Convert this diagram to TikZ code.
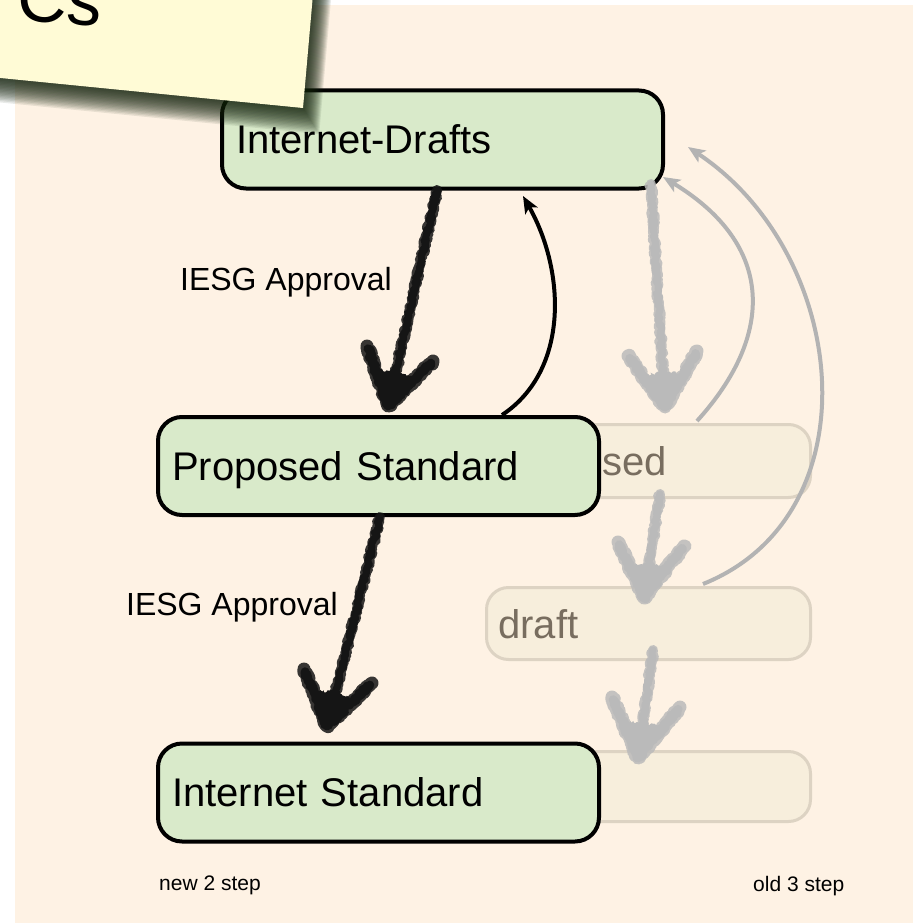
\documentclass[tikz,border=0pt]{standalone}
\usepackage{fontspec}
\setmainfont{Liberation Sans}
\usetikzlibrary{arrows.meta,decorations.pathmorphing,calc}
\definecolor{bgpeach}{HTML}{FEF2E4}
\definecolor{boxgreen}{HTML}{D9EACA}
\definecolor{fadefill}{HTML}{F7EEDC}
\definecolor{fadeline}{HTML}{DDD3C3}
\definecolor{fadetext}{HTML}{786D5F}
\definecolor{arrowgray}{HTML}{B3B3B3}
\definecolor{chalkgray}{HTML}{BABABA}
\definecolor{chalkblack}{HTML}{151515}
\definecolor{notefill}{HTML}{FFFBD6}
\definecolor{noteshadow}{HTML}{15240F}
\tikzset{
  greenbox/.style={draw=black, line width=4pt, fill=boxgreen, rounded corners=24pt,
    minimum width=441pt, minimum height=98pt, text width=413pt, inner xsep=14pt,
    align=left, text height=28pt, text depth=0pt, font=\fontsize{40}{46}\selectfont},
  fadebox/.style={draw=fadeline, line width=3pt, fill=fadefill, rounded corners=22pt, inner sep=0pt},
  fadelabel/.style={text=fadetext, font=\fontsize{40}{46}\selectfont, inner sep=0pt},
  edgelabel/.style={font=\fontsize{32}{38}\selectfont, inner sep=0pt},
  steplabel/.style={font=\fontsize{21}{25}\selectfont, inner sep=0pt},
  thinarrow/.style={line width=4pt, -{Stealth[length=17pt,width=14pt,inset=4pt]}},
  chalk/.style={line width=#1, line cap=round, line join=round, decorate,
    decoration={random steps, segment length=1.5pt, amplitude=1.7pt}},
  chalkfill/.style={decorate, decoration={random steps, segment length=1.5pt, amplitude=1.7pt}},
}
\newcommand\chalkarrow[5]{%
  \draw[#1, chalk=10pt, opacity=0.85] (#2) -- ($(#3)!10pt!(#2)$);
  \draw[#1, chalk=7pt] (#2) -- ($(#3)!10pt!(#2)$);
  \draw[#1, chalk=13pt, opacity=0.85] (#4) -- (#3) -- (#5);
  \draw[#1, chalk=9pt] ($(#4)!3pt!(#3)$) -- (#3) -- ($(#5)!3pt!(#3)$);
  \fill[#1, chalkfill] (#3) -- ($(#3)!0.6!(#4)$) -- ($(#3)!36pt!(#2)$) -- ($(#3)!0.6!(#5)$) -- cycle;
}
\pgfmathsetseed{7}
\begin{document}
\begin{tikzpicture}[x=1pt,y=-1pt]
\useasboundingbox (0,0) rectangle (913,923);
\fill[white] (0,0) rectangle (913,923);
\fill[bgpeach] (15,5) rectangle (913,923);

% faded old-process boxes
\node[fadebox, minimum width=249pt, minimum height=73pt] (oldps) at (686,461) {};
\node[fadebox, minimum width=324pt, minimum height=72pt] (olddraft) at (648.5,623.5) {};
\node[fadebox, minimum width=249pt, minimum height=70pt] (oldis) at (686,786.5) {};
\node[fadelabel, anchor=base west] (oldpstext) at (602,475) {sed};
\node[fadelabel, anchor=base west] (olddrafttext) at (498,638) {draft};

% green boxes
\node[greenbox] (id) at (442.5,139.5) {Internet-Drafts};
\node[greenbox] (ps) at (378.5,466) {Proposed Standard};
\node[greenbox] (is) at (378.5,792.5) {Internet Standard};

% labels
\node[edgelabel, anchor=base east] (lab1) at (392,290) {IESG Approval};
\node[edgelabel, anchor=base east] (lab2) at (338,615) {IESG Approval};
\node[steplabel, anchor=base west] (newstep) at (159,890) {new 2 step};
\node[steplabel, anchor=base west] (oldstep) at (753,891) {old 3 step};

% connector end points
\coordinate (bks) at (502,415);
\coordinate (bke) at (523,196);
\coordinate (g1s) at (697,421);
\coordinate (g1e) at (663,177);
\coordinate (g2s) at (703,584);
\coordinate (g2e) at (688,147);

% thin arrows
\draw[thinarrow, black] (bks) .. controls (570,370) and (565,270) .. (bke);
\draw[thinarrow, arrowgray] (g1s) .. controls (775,335) and (775,245) .. (g1e);
\draw[thinarrow, arrowgray] (g2s) .. controls (875,515) and (850,255) .. (g2e);

% chalky arrows
\coordinate (c1s) at (437,190); \coordinate (c1t) at (388,406);
\coordinate (c1l) at (367,346); \coordinate (c1r) at (433,361);
\chalkarrow{chalkblack}{c1s}{c1t}{c1l}{c1r}
\coordinate (c2s) at (380,517); \coordinate (c2t) at (327,726);
\coordinate (c2l) at (304,669); \coordinate (c2r) at (372,683);
\chalkarrow{chalkblack}{c2s}{c2t}{c2l}{c2r}
\coordinate (g3s) at (651,184); \coordinate (g3t) at (665,407);
\coordinate (g3l) at (628,356); \coordinate (g3r) at (697,351);
\chalkarrow{chalkgray}{g3s}{g3t}{g3l}{g3r}
\coordinate (g4s) at (660,494); \coordinate (g4t) at (644,598);
\coordinate (g4l) at (618,542); \coordinate (g4r) at (684,546);
\chalkarrow{chalkgray}{g4s}{g4t}{g4l}{g4r}
\coordinate (g5s) at (653,650); \coordinate (g5t) at (638,758);
\coordinate (g5l) at (612,697); \coordinate (g5r) at (680,707);
\chalkarrow{chalkgray}{g5s}{g5t}{g5l}{g5r}

% sticky note with soft shadow
\foreach \i in {1,...,18} {
  \fill[noteshadow, opacity=0.09, shift={(0.9*\i,1.45*\i)}]
    (-60,72) -- (303,108) -- (316,-40) -- (-60,-40) -- cycle;
}
\fill[notefill] (-60,72) -- (303,108) -- (316,-40) -- (-60,-40) -- cycle;
\node[anchor=base west, rotate=-5.6, font=\fontsize{70}{80}\selectfont, inner sep=0pt] (notetitle) at (15,19) {Cs};
\end{tikzpicture}
\end{document}
